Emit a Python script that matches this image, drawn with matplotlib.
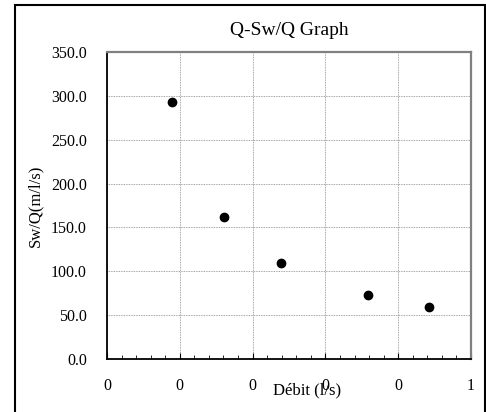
import numpy as np
import matplotlib
matplotlib.use('agg')
import matplotlib.pyplot as plt
from matplotlib.patches import Rectangle
from matplotlib.ticker import MultipleLocator, FormatStrFormatter

plt.rcParams['font.family'] = ['Liberation Serif', 'DejaVu Serif']

# data
debit = [0.178, 0.322, 0.478, 0.716, 0.884]
sw_q = [293.2, 161.8, 109.3, 73.1, 59.4]
x_ticks = [0.0, 0.2, 0.4, 0.6, 0.8, 1.0]
x_tick_labels = ['0', '0', '0', '0', '0', '1']

fig = plt.figure(figsize=(4.86, 4.12), dpi=100)
ax = fig.add_axes([107/486, 1-359/412, 364/486, 307/412])

ax.plot(debit, sw_q, 'o', color='k', ms=6, clip_on=False, zorder=3)

ax.set_xlim(0, 1)
ax.set_ylim(0, 350)
ax.set_xticks(x_ticks)
ax.set_xticklabels(x_tick_labels)
ax.xaxis.set_minor_locator(MultipleLocator(0.04))
ax.yaxis.set_major_locator(MultipleLocator(50))
ax.yaxis.set_major_formatter(FormatStrFormatter('%.1f'))

ax.grid(True, which='major', color='#888888', linestyle=(0, (1, 1)), linewidth=0.6)
ax.tick_params(axis='x', which='major', direction='in', length=4, width=0.8,
               labelsize=11.5, pad=13.5)
ax.tick_params(axis='x', which='minor', direction='in', length=3, width=0.6)
ax.tick_params(axis='y', which='major', length=0, labelsize=11.5, pad=14.5)

for s in ['left', 'bottom']:
    ax.spines[s].set_color('k')
    ax.spines[s].set_linewidth(1.3)
for s in ['top', 'right']:
    ax.spines[s].set_color('#808080')
    ax.spines[s].set_linewidth(1.6)

ax.set_title('Q-Sw/Q Graph', fontsize=14, pad=12)
ax.set_xlabel('Débit (l/s)', fontsize=12)
ax.xaxis.set_label_coords((307-107)/364, -(382-359)/307)
ax.set_ylabel('Sw/Q(m/l/s)', fontsize=12)
ax.yaxis.set_label_coords(-(107-43)/364, 0.5)

# chart border
fig.patches.append(Rectangle((15/486, -0.05), 470/486, 1.05-5/412,
                             transform=fig.transFigure, fill=False,
                             edgecolor='k', linewidth=1.5))

fig.savefig('out.png', dpi=100)
